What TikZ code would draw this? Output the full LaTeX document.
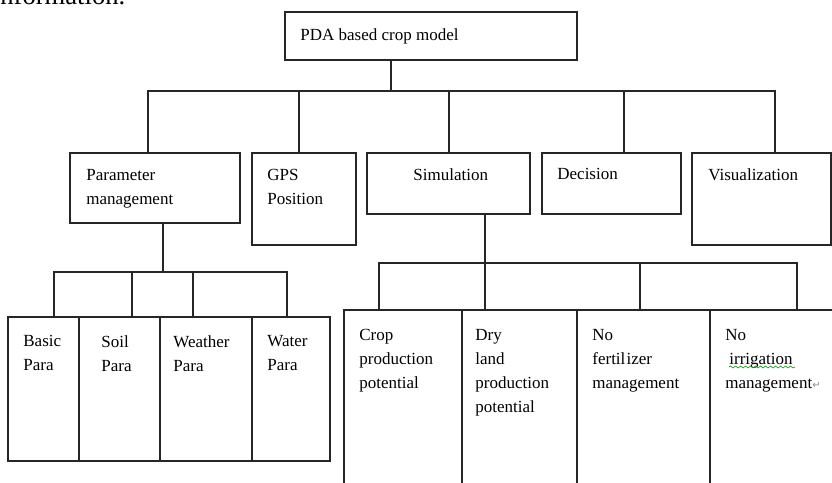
\documentclass[tikz,border=0pt]{standalone}
\usepackage{fontspec}
\setmainfont{Liberation Serif}
\newfontfamily\symfont{DejaVu Sans}
\usetikzlibrary{fit,decorations.pathmorphing}

\tikzset{
    % Box styles - plain frames
    box/.style={draw=black!85, line width=0.75pt, inner sep=0pt},
    % Text inside the boxes, placed by its top left corner
    box text/.style={anchor=north west, inner sep=0pt, align=left,
        font=\fontsize{8.5}{12}\selectfont},
    % Tree connectors
    link/.style={draw=black!85, line width=0.75pt},
    % Word artefacts
    spell/.style={green!60!black, line width=0.3pt,
        decorate, decoration={snake, amplitude=0.5pt, segment length=2.5pt}},
}

\begin{document}
\begin{tikzpicture}[x=0.5pt,y=-0.5pt]
    \clip (0,0) rectangle (832,483);

    % Cut-off line of the page text
    \node[anchor=base west, inner sep=0pt, font=\fontsize{13.3}{16}\selectfont]
        (page text) at (-7.4,4) {information.};

    % Root
    \node[box, fit={(285,12) (577,60)}] (model) {};
    \node[box text] (model text) at (300,28) {PDA based crop model};

    % Second level
    \node[box, fit={(70,153) (240,223)}] (param) {};
    \node[box, fit={(252,153) (356,245)}] (gps) {};
    \node[box, fit={(367,153) (530,214)}] (sim) {};
    \node[box, fit={(542,153) (681,214)}] (dec) {};
    \node[box, fit={(692,153) (831,245)}] (vis) {};
    \node[box text] (param text) at (86,169) {Parameter\\management};
    \node[box text] (gps text) at (267,169) {GPS\\Position};
    \node[box text] (sim text) at (413,168) {Simulation};
    \node[box text] (dec text) at (557,168) {Decision};
    \node[box text] (vis text) at (708,168) {Visualization};

    % Parameters
    \node[box, fit={(8,317) (79,461)}] (basic) {};
    \node[box, fit={(79,317) (160,461)}] (soil) {};
    \node[box, fit={(160,317) (252,461)}] (weather) {};
    \node[box, fit={(252,317) (330,461)}] (water) {};
    \node[box text] (basic text) at (23,335) {Basic\\Para};
    \node[box text] (soil text) at (101,335) {Soil\\Para};
    \node[box text] (weather text) at (173,335) {Weather\\Para};
    \node[box text] (water text) at (267,335) {Water\\Para};

    % Simulation results
    \node[box, fit={(344,310) (462,500)}] (crop) {};
    \node[box, fit={(462,310) (577,500)}] (dry) {};
    \node[box, fit={(577,310) (710,500)}] (nofert) {};
    \node[box, fit={(710,310) (845,500)}] (noirr) {};
    \node[box text] (crop text) at (359,329) {Crop\\production\\potential};
    \node[box text] (dry text) at (475,329) {Dry\\land\\production\\potential};
    \node[box text] (nofert text) at (592,329) {No\\fertil\kern0.6pt izer\\management};
    \node[box text] (noirr text) at (725,329)
        {No\\\hspace{2pt}irrigation\\management{\symfont\tiny\color{black!45}↵}};
    \draw[spell] (729,367) -- (795,367);

    % Root to second level
    \draw[link] ([xshift=-20pt]model.south) -- ++(0,30) coordinate (top bus);
    \foreach \n/\dx in {param/-3.5, gps/-2.5, sim/0.25, dec/6.25, vis/6.75}
        \draw[link] (top bus) -| ([xshift=\dx pt]\n.north);

    % Parameter management to parameters
    \draw[link] ([xshift=4pt]param.south) -- ++(0,48) coordinate (param bus);
    \foreach \n/\dx in {basic/5.25, soil/6.25, weather/-6.5, water/-2}
        \draw[link] (param bus) -| ([xshift=\dx pt]\n.north);

    % Simulation to results
    \draw[link] ([xshift=18.25pt]sim.south) -- ++(0,48) coordinate (sim bus);
    \foreach \n/\dx in {crop/-12, dry/-17.25, nofert/-1.75, noirr/9.75}
        \draw[link] (sim bus) -| ([xshift=\dx pt]\n.north);
\end{tikzpicture}
\end{document}
